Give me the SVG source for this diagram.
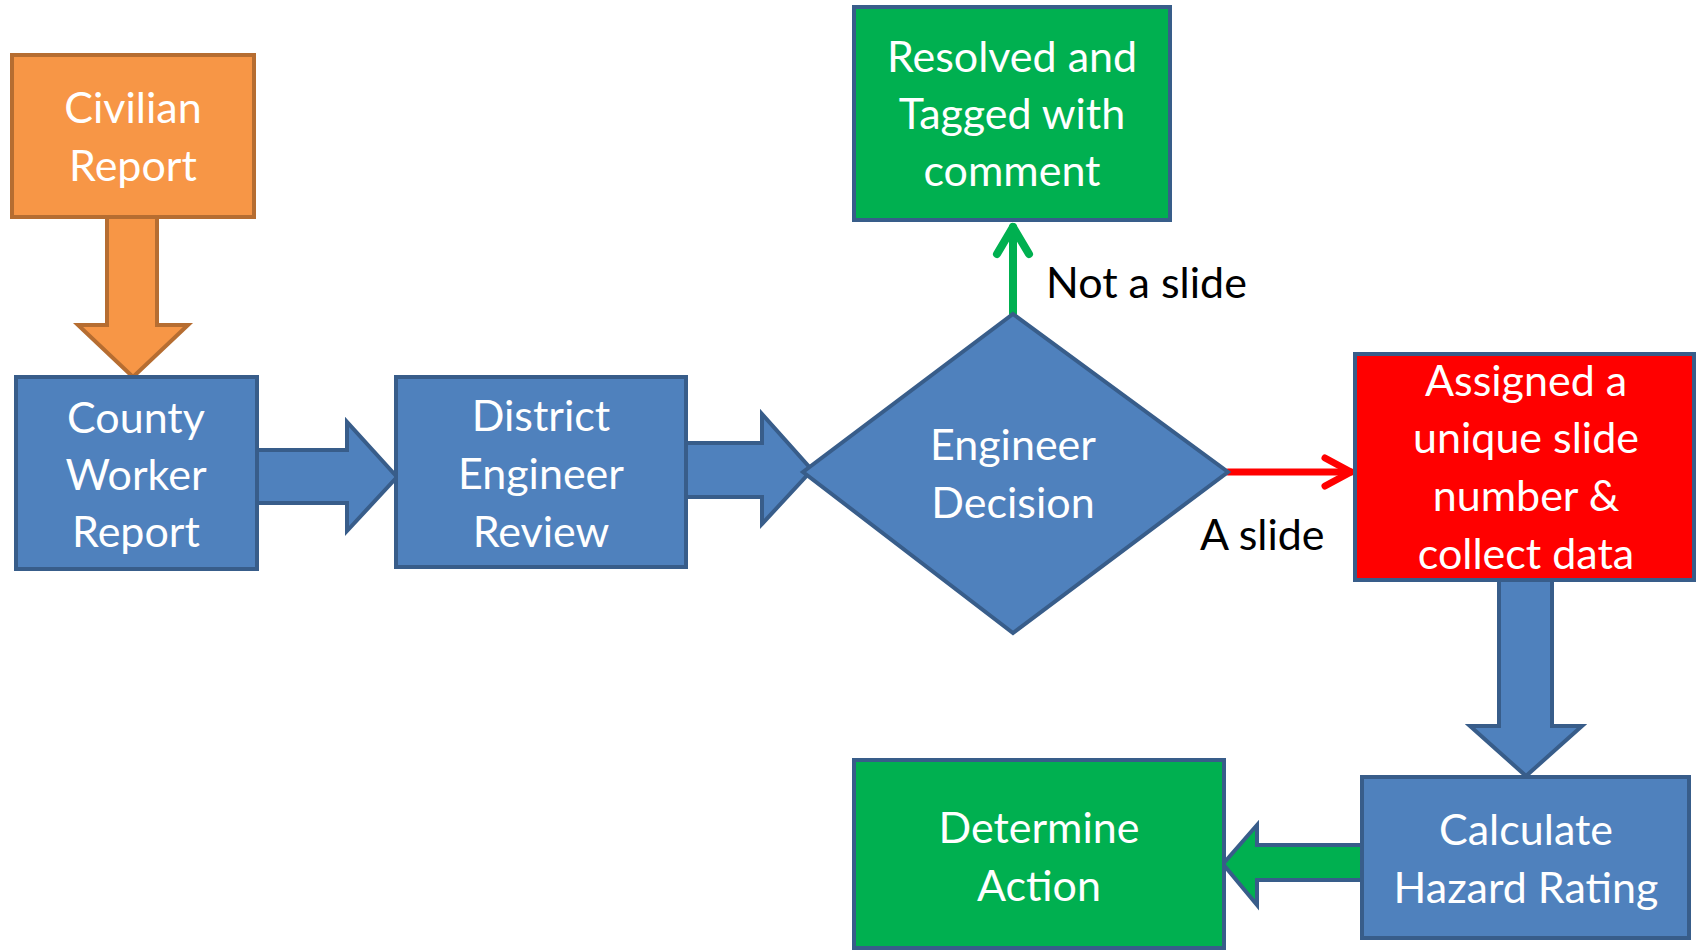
<svg xmlns="http://www.w3.org/2000/svg" width="1696" height="951" viewBox="0 0 1696 951">
<style>
.box{stroke:#385D8A;stroke-width:4;stroke-linejoin:miter}
.blue{fill:#4F81BD}
.green{fill:#00B050}
.red{fill:#FF0000}
.orange{fill:#F79646;stroke:#B66D31;stroke-width:4}
.t{font-family:Lato,"Liberation Sans",sans-serif;font-size:43px;fill:#FFFFFF;text-anchor:middle}
.lbl{font-family:Lato,"Liberation Sans",sans-serif;font-size:43px;fill:#000000}
</style>
<rect width="1696" height="951" fill="#FFFFFF"/>
<g id="connectors">
<polygon class="orange" points="107,217 157,217 157,325 188,325 133,377 78,325 107,325"/>
<polygon class="box blue" points="257,450 347,450 347,422 397,477 347,531 347,503 257,503"/>
<polygon class="box blue" points="686,443 762,443 762,414 812,470 762,524 762,497 686,497"/>
<g fill="none" stroke="#00B050" stroke-width="8" stroke-linecap="round" stroke-linejoin="round">
<line x1="1013" y1="314" x2="1013" y2="227"/>
<polyline points="997,254 1013,227 1029,254"/>
</g>
<g fill="none" stroke="#FF0000" stroke-width="7" stroke-linecap="round" stroke-linejoin="round">
<line x1="1228" y1="472" x2="1351" y2="472"/>
<polyline points="1325,458 1351,472 1325,486"/>
</g>
<polygon class="box blue" points="1499,580 1552,580 1552,726 1582,726 1526,776 1470,726 1499,726"/>
<polygon class="box green" points="1362,845 1257,845 1257,825 1223,864 1257,905 1257,880 1362,880"/>
<text class="lbl" x="1046" y="298">Not a slide</text>
<text class="lbl" x="1200" y="550">A slide</text>
</g>
<g id="civilian">
<rect class="orange" x="12" y="55" width="242" height="162"/>
<text class="t" x="133" y="123">Civilian</text>
<text class="t" x="133" y="181">Report</text>
</g>
<g id="county">
<rect class="box blue" x="16" y="377" width="241" height="192"/>
<text class="t" x="136" y="433">County</text>
<text class="t" x="136" y="490">Worker</text>
<text class="t" x="136" y="547">Report</text>
</g>
<g id="district">
<rect class="box blue" x="396" y="377" width="290" height="190"/>
<text class="t" x="541" y="431">District</text>
<text class="t" x="541" y="489">Engineer</text>
<text class="t" x="541" y="547">Review</text>
</g>
<g id="decision">
<polygon class="box blue" points="1013,314 1228,472 1013,633 803,472"/>
<text class="t" x="1013" y="460">Engineer</text>
<text class="t" x="1013" y="518">Decision</text>
</g>
<g id="resolved">
<rect class="box green" x="854" y="7" width="316" height="213"/>
<text class="t" x="1012" y="72">Resolved and</text>
<text class="t" x="1012" y="129">Tagged with</text>
<text class="t" x="1012" y="186">comment</text>
</g>
<g id="assigned">
<rect class="box red" x="1355" y="354" width="339" height="226"/>
<text class="t" x="1526" y="396">Assigned a</text>
<text class="t" x="1526" y="453">unique slide</text>
<text class="t" x="1526" y="511">number &amp;</text>
<text class="t" x="1526" y="569">collect data</text>
</g>
<g id="calculate">
<rect class="box blue" x="1362" y="777" width="327" height="161"/>
<text class="t" x="1526" y="845">Calculate</text>
<text class="t" x="1526" y="903">Hazard Rating</text>
</g>
<g id="determine">
<rect class="box green" x="854" y="760" width="370" height="188"/>
<text class="t" x="1039" y="843">Determine</text>
<text class="t" x="1039" y="901">Action</text>
</g>
</svg>
